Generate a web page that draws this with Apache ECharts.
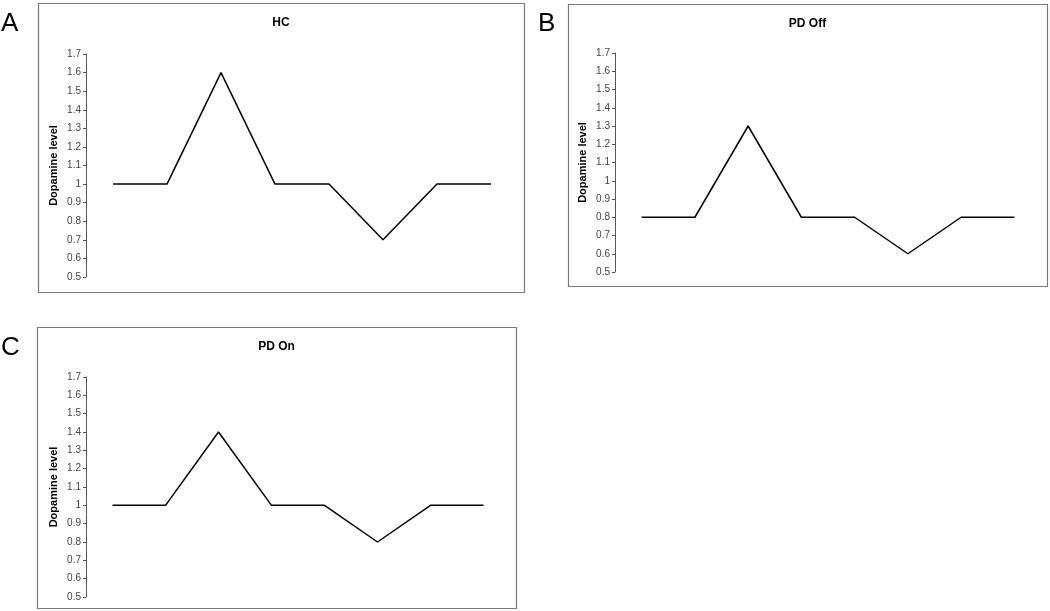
<!DOCTYPE html>
<html>
<head>
<meta charset="utf-8">
<script src="https://cdn.jsdelivr.net/npm/echarts@6/dist/echarts.min.js"></script>
<style>
html,body{margin:0;padding:0;background:#fff;}
#chart{width:1050px;height:611px;}
</style>
</head>
<body>
<div id="chart"></div>
<script>
const categories = ['1','2','3','4','5','6','7','8'];
const hcValues = [1, 1, 1.6, 1, 1, 0.7, 1, 1];
const pdOffValues = [0.8, 0.8, 1.3, 0.8, 0.8, 0.6, 0.8, 0.8];
const pdOnValues = [1, 1, 1.4, 1, 1, 0.8, 1, 1];
const panelTitles = ['HC', 'PD Off', 'PD On'];
const panelLetters = ['A', 'B', 'C'];
const yAxisName = 'Dopamine level';
const yMin = 0.5, yMax = 1.7, yStep = 0.1;

const font = 'Arial, "Liberation Sans", sans-serif';
const panels = [
  {box:[38,3,486,289], grid:{left:86, top:54, width:432, height:223}, letter:[1,24]},
  {box:[568,4,479,282], grid:{left:615, top:53, width:426, height:219}, letter:[538,24]},
  {box:[37,327,479,281], grid:{left:86, top:377, width:424, height:220}, letter:[1,348]}
];
const seriesData = [hcValues, pdOffValues, pdOnValues];

const chart = echarts.init(document.getElementById('chart'), null, {renderer:'canvas'});
const option = {
  backgroundColor:'#fff',
  animation:false,
  grid: panels.map(p => Object.assign({containLabel:false}, p.grid)),
  xAxis: panels.map((p,i) => ({
    type:'category', gridIndex:i, data:categories, boundaryGap:true,
    axisLine:{show:false}, axisTick:{show:false}, axisLabel:{show:false}, splitLine:{show:false}
  })),
  yAxis: panels.map((p,i) => ({
    type:'value', gridIndex:i, min:yMin, max:yMax, interval:yStep,
    name:yAxisName, nameLocation:'middle', nameGap:27,
    nameTextStyle:{fontFamily:font, fontSize:11, fontWeight:'bold', color:'#000'},
    axisLine:{show:true, lineStyle:{color:'#555', width:1}},
    axisTick:{show:true, inside:false, length:3, lineStyle:{color:'#555'}},
    axisLabel:{fontFamily:font, fontSize:10, color:'#444', margin:5,
      formatter: v => { const r = Math.round(v*10)/10; return String(r); }},
    splitLine:{show:false}
  })),
  series: seriesData.map((d,i) => ({
    type:'line', xAxisIndex:i, yAxisIndex:i, data:d, symbol:'none',
    lineStyle:{color:'#000', width:1.5}
  })),
  graphic: [].concat(
    panels.map(p => ({type:'rect', z:-1, shape:{x:p.box[0]+0.5, y:p.box[1]+0.5, width:p.box[2], height:p.box[3]},
      style:{fill:'#fff', stroke:'#7a7a7a', lineWidth:1.2}})),
    panels.map((p,i) => ({type:'text', x:p.letter[0], y:p.letter[1],
      style:{text:panelLetters[i], font:'26px '+font, fill:'#000', textVerticalAlign:'middle'}})),
    panels.map((p,i) => ({type:'text', x:p.box[0]+p.box[2]/2, y:p.box[1]+20,
      style:{text:panelTitles[i], font:'bold 12px '+font, fill:'#000', textAlign:'center', textVerticalAlign:'middle'}}))
  )
};
chart.setOption(option);
</script>
</body>
</html>
